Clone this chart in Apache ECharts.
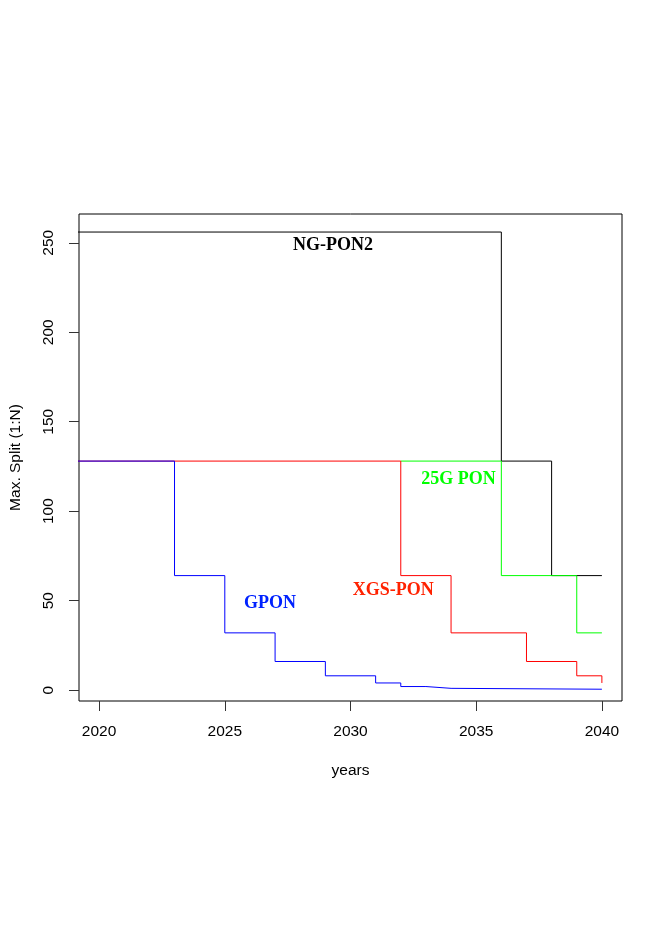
<!DOCTYPE html>
<html>
<head>
<meta charset="utf-8">
<script src="https://cdn.jsdelivr.net/npm/echarts@6/dist/echarts.min.js"></script>
<style>
  html, body { margin: 0; padding: 0; background: #fff; }
  #chart { width: 662px; height: 936px; }
</style>
</head>
<body>
<div id="chart"></div>
<script>
// step data: [year, max split]
const ngpon2 = [[2019, 256], [2036, 128], [2038, 64], [2040, 64]];
const pon25g = [[2032, 128], [2036, 64], [2039, 32], [2040, 32]];
const xgspon = [[2019, 128], [2032, 64], [2034, 32], [2037, 16], [2039, 8], [2040, 4]];
const gpon = [[2019, 128], [2023, 64], [2025, 32], [2027, 16], [2029, 8], [2031, 4], [2032, 2], [2033, 1], [2034, 0.5], [2040, 0.5]];

const xTicks = [2020, 2025, 2030, 2035, 2040];
const yTicks = [0, 50, 100, 150, 200, 250];

// in-plot labels
const labelNames = ["NG-PON2", "25G PON", "XGS-PON", "GPON"];
const labelPos = [[2029.3, 248.7], [2034.3, 117.6], [2031.7, 55.8], [2026.8, 48.4]];
const labelColors = ["#000000", "#00ff00", "#ff2200", "#0022ff"];

const stepLine = (data, color) => ({
    type: "line",
    step: "end",
    data: data,
    showSymbol: false,
    symbol: "none",
    lineStyle: { color: color, width: 1 },
    itemStyle: { color: color },
    animation: false,
});

const chart = echarts.init(document.getElementById("chart"));
chart.setOption({
    backgroundColor: "#fff",
    animation: false,
    grid: {
        left: 77,
        right: 40,
        top: 214,
        bottom: 235,
        show: true,
        borderColor: "#000",
        borderWidth: 1,
        backgroundColor: "transparent",
    },
    xAxis: {
        type: "value",
        min: 2019.2,
        max: 2040.8,
        splitLine: { show: false },
        axisLine: { show: false, onZero: false },
        axisTick: { show: true, inside: false, length: 10, customValues: xTicks, lineStyle: { color: "#333" } },
        axisLabel: {
            customValues: xTicks,
            formatter: (v) => String(v),
            margin: 23,
            fontFamily: "Liberation Sans",
            fontSize: 15.5,
            color: "#000",
        },
        name: "years",
        nameLocation: "middle",
        nameGap: 62,
        nameTextStyle: { fontFamily: "Liberation Sans", fontSize: 15.5, color: "#000" },
    },
    yAxis: {
        type: "value",
        min: -6.08,
        max: 266.08,
        splitLine: { show: false },
        axisLine: { show: false, onZero: false },
        axisTick: { show: true, inside: false, length: 10, customValues: yTicks, lineStyle: { color: "#333" } },
        axisLabel: {
            customValues: yTicks,
            formatter: (v) => String(v),
            rotate: 90,
            margin: 22,
            fontFamily: "Liberation Sans",
            fontSize: 15.5,
            color: "#000",
        },
        name: "Max. Split (1:N)",
        nameLocation: "middle",
        nameGap: 55,
        nameTextStyle: { fontFamily: "Liberation Sans", fontSize: 15.5, color: "#000" },
    },
    series: [
        stepLine(ngpon2, "#000000"),
        stepLine(pon25g, "#00ff00"),
        stepLine(xgspon, "#ff0000"),
        stepLine(gpon, "#0000ff"),
    ],
});

// place the text labels at data coordinates
chart.setOption({
    graphic: labelNames.map((n, i) => {
        const p = chart.convertToPixel({ gridIndex: 0 }, labelPos[i]);
        return {
            type: "text",
            x: p[0],
            y: p[1],
            silent: true,
            style: {
                text: n,
                fill: labelColors[i],
                font: "bold 18px 'Liberation Serif'",
                align: "center",
                verticalAlign: "middle",
            },
        };
    }),
});
</script>
</body>
</html>
